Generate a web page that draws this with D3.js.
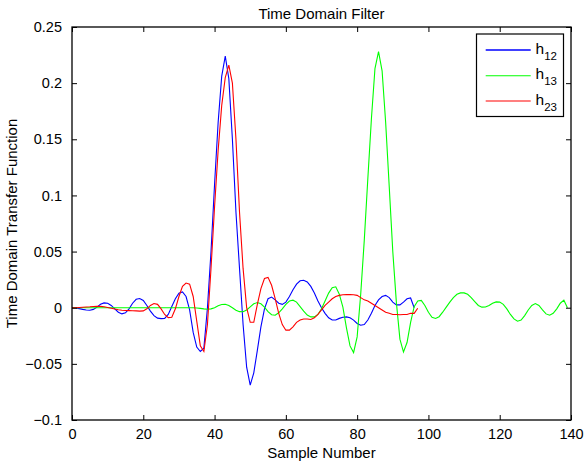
<!DOCTYPE html>
<html>
<head>
<meta charset="utf-8">
<script src="https://cdn.jsdelivr.net/npm/d3@7"></script>
<style>
  html, body { margin: 0; padding: 0; background: #fff; }
  svg { display: block; font-family: "Liberation Sans", Arial, Helvetica, sans-serif; }
</style>
</head>
<body>
<svg id="chart" width="584" height="465"></svg>
<script>
// ---- data ----
const h12 = [
  0, -0.0003, -0.0008, -0.0015, -0.002, -0.0022, -0.0015, 0.0005, 0.003, 0.0043,
  0.004, 0.002, -0.001, -0.004, -0.0055, -0.0045, -0.001, 0.004, 0.0075, 0.0082,
  0.0065, 0.002, -0.003, -0.007, -0.0093, -0.0097, -0.0095, -0.006, 0.001, 0.008,
  0.013, 0.014, 0.01, -0.002, -0.022, -0.035, -0.039, -0.036, 0.0, 0.05,
  0.11, 0.165, 0.206, 0.224, 0.204, 0.15, 0.085, 0.035, -0.015, -0.053,
  -0.069, -0.058, -0.038, -0.017, -0.001, 0.008, 0.0095, 0.007, 0.004, 0.003,
  0.005, 0.010, 0.016, 0.021, 0.024, 0.0245, 0.023, 0.019, 0.013, 0.006,
  0.0, -0.005, -0.009, -0.011, -0.011, -0.0095, -0.0085, -0.0082, -0.009, -0.011,
  -0.014, -0.0156, -0.015, -0.011, -0.005, 0.002, 0.007, 0.010, 0.011, 0.009,
  0.005, 0.0025, 0.0025, 0.005, 0.008, 0.0087, 0.0
];
const h13 = [
  0, 0, 0, 0, 0, 0, 0, 0, 0, 0,
  0, 0, 0, 0, 0, 0, 0, 0, 0, 0,
  0, 0, 0, 0, 0, 0, 0, 0, 0, 0,
  0, 0, 0, 0, 0, -0.0002, -0.0006, -0.001, -0.0013, -0.001,
  0.0, 0.0018, 0.0028, 0.003, 0.002, 0.0, -0.0022, -0.0035, -0.0036, -0.002,
  0.0008, 0.0035, 0.0046, 0.0035, 0.0005, -0.0035, -0.0062, -0.0067, -0.0045, -0.001,
  0.003, 0.006, 0.0067, 0.005, 0.001, -0.003, -0.0065, -0.0082, -0.0082, -0.006,
  -0.001, 0.006, 0.013, 0.0178, 0.0186, 0.012, 0.0005, -0.018, -0.034, -0.040,
  -0.026, 0.012, 0.06, 0.115, 0.168, 0.213, 0.228, 0.211, 0.165, 0.108,
  0.05, 0.005, -0.028, -0.0395, -0.031, -0.013, 0.001, 0.006, 0.0065, 0.002,
  -0.004, -0.0085, -0.0096, -0.008, -0.004, 0.0005, 0.005, 0.009, 0.012, 0.0132,
  0.0132, 0.012, 0.009, 0.0055, 0.002, 0.0005, 0.0007, 0.002, 0.004, 0.0052,
  0.005, 0.003, -0.001, -0.006, -0.010, -0.012, -0.011, -0.007, -0.002, 0.002,
  0.0037, 0.002, -0.002, -0.0055, -0.0067, -0.005, -0.001, 0.004, 0.0067, 0.0
];
const h23 = [
  0, 0, 0.0002, 0.0004, 0.0006, 0.0008, 0.0011, 0.0013, 0.0012, 0.0008,
  0.0002, -0.0005, -0.0012, -0.0018, -0.0022, -0.0025, -0.0026, -0.0027, -0.0028, -0.003,
  -0.0028, -0.001, 0.002, 0.0037, 0.003, -0.001, -0.006, -0.0088, -0.0085, -0.001,
  0.01, 0.019, 0.022, 0.021, 0.01, -0.012, -0.034, -0.039, -0.015, 0.035,
  0.09, 0.14, 0.18, 0.205, 0.216, 0.20, 0.15, 0.085, 0.035, 0.0,
  -0.013, -0.013, 0.003, 0.017, 0.026, 0.027, 0.02, 0.008, -0.005, -0.015,
  -0.02, -0.02, -0.017, -0.013, -0.011, -0.010, -0.010, -0.0105, -0.009, -0.006,
  -0.002, 0.002, 0.005, 0.008, 0.010, 0.011, 0.0115, 0.0117, 0.0117, 0.0115,
  0.011, 0.009, 0.007, 0.006, 0.004, 0.002, 0.0, -0.002, -0.004, -0.005,
  -0.006, -0.006, -0.0062, -0.006, -0.006, -0.005, -0.005, -0.0005
];
const seriesNames = ["12", "13", "23"];
const seriesColors = ["#0000ff", "#00ff00", "#ff0000"];
const xTicks = [0, 20, 40, 60, 80, 100, 120, 140];
const yTicks = [-0.1, -0.05, 0, 0.05, 0.1, 0.15, 0.2, 0.25];
const titleText = "Time Domain Filter";
const xLabelText = "Sample Number";
const yLabelText = "Time Domain Transfer Function";

// ---- layout ----
const svg = d3.select("#chart");
const L = 72, R = 571, T = 27, B = 420;
const x = d3.scaleLinear().domain([0, 140]).range([L, R]);
const y = d3.scaleLinear().domain([-0.1, 0.25]).range([B, T]);
const fmt = v => (v < 0 ? "\u2212" : "") + String(Math.abs(+v.toFixed(2)));

// white plot area
svg.append("rect").attr("x", L).attr("y", T).attr("width", R - L).attr("height", B - T).attr("fill", "#fff");

// data lines
const allSeries = [h12, h13, h23];
const line = d3.line().x((d, i) => x(i)).y(d => y(d));
const clip = svg.append("clipPath").attr("id", "clip").append("rect")
  .attr("x", L).attr("y", T).attr("width", R - L).attr("height", B - T);
svg.append("g").attr("clip-path", "url(#clip)")
  .selectAll("path").data(allSeries).join("path")
  .attr("d", d => line(d))
  .attr("fill", "none")
  .attr("stroke", (d, i) => seriesColors[i])
  .attr("stroke-width", 1.1)
  .attr("stroke-linejoin", "miter");

// axes (MATLAB style: inward ticks on all four sides)
const fontSize = 14.5;
function styleAxis(g) {
  g.select(".domain").remove();
  g.selectAll("line").attr("stroke", "#000").attr("stroke-width", 1);
  g.selectAll("text").attr("font-size", fontSize).attr("fill", "#000")
    .attr("font-family", "Liberation Sans, Arial, sans-serif");
}
svg.append("g").attr("transform", `translate(0,${B})`)
  .call(d3.axisBottom(x).tickValues(xTicks).tickSize(-5).tickPadding(9).tickFormat(d => String(d)))
  .call(styleAxis);
svg.append("g").attr("transform", `translate(0,${T})`)
  .call(d3.axisTop(x).tickValues(xTicks).tickSize(-5).tickFormat(""))
  .call(styleAxis);
svg.append("g").attr("transform", `translate(${L},0)`)
  .call(d3.axisLeft(y).tickValues(yTicks).tickSize(-5).tickPadding(10).tickFormat(fmt))
  .call(styleAxis);
svg.append("g").attr("transform", `translate(${R},0)`)
  .call(d3.axisRight(y).tickValues(yTicks).tickSize(-5).tickFormat(""))
  .call(styleAxis);

// frame
svg.append("rect").attr("x", L).attr("y", T).attr("width", R - L).attr("height", B - T)
  .attr("fill", "none").attr("stroke", "#000").attr("stroke-width", 1.3);

// title and labels
svg.append("text").attr("x", (L + R) / 2).attr("y", 19).attr("text-anchor", "middle")
  .attr("font-size", 15).text(titleText);
svg.append("text").attr("x", (L + R) / 2).attr("y", 458).attr("text-anchor", "middle")
  .attr("font-size", 15).text(xLabelText);
svg.append("text").attr("transform", `translate(17,${(T + B) / 2}) rotate(-90)`)
  .attr("text-anchor", "middle").attr("font-size", 15).text(yLabelText);

// legend
const lg = svg.append("g");
lg.append("rect").attr("x", 476.5).attr("y", 34).attr("width", 87).attr("height", 82.5)
  .attr("fill", "#fff").attr("stroke", "#000").attr("stroke-width", 1.2);
const rowY = [50, 75.7, 101];
seriesNames.forEach((name, i) => {
  lg.append("line").attr("x1", 485.7).attr("x2", 530.7).attr("y1", rowY[i]).attr("y2", rowY[i])
    .attr("stroke", seriesColors[i]).attr("stroke-width", i === 0 ? 1.6 : 1.1);
  const t = lg.append("text").attr("x", 535.5).attr("y", rowY[i] + 3.5).attr("font-size", 15.5);
  t.append("tspan").text("h");
  t.append("tspan").attr("dy", 6).attr("font-size", 11.5).text(name);
});
</script>
</body>
</html>
